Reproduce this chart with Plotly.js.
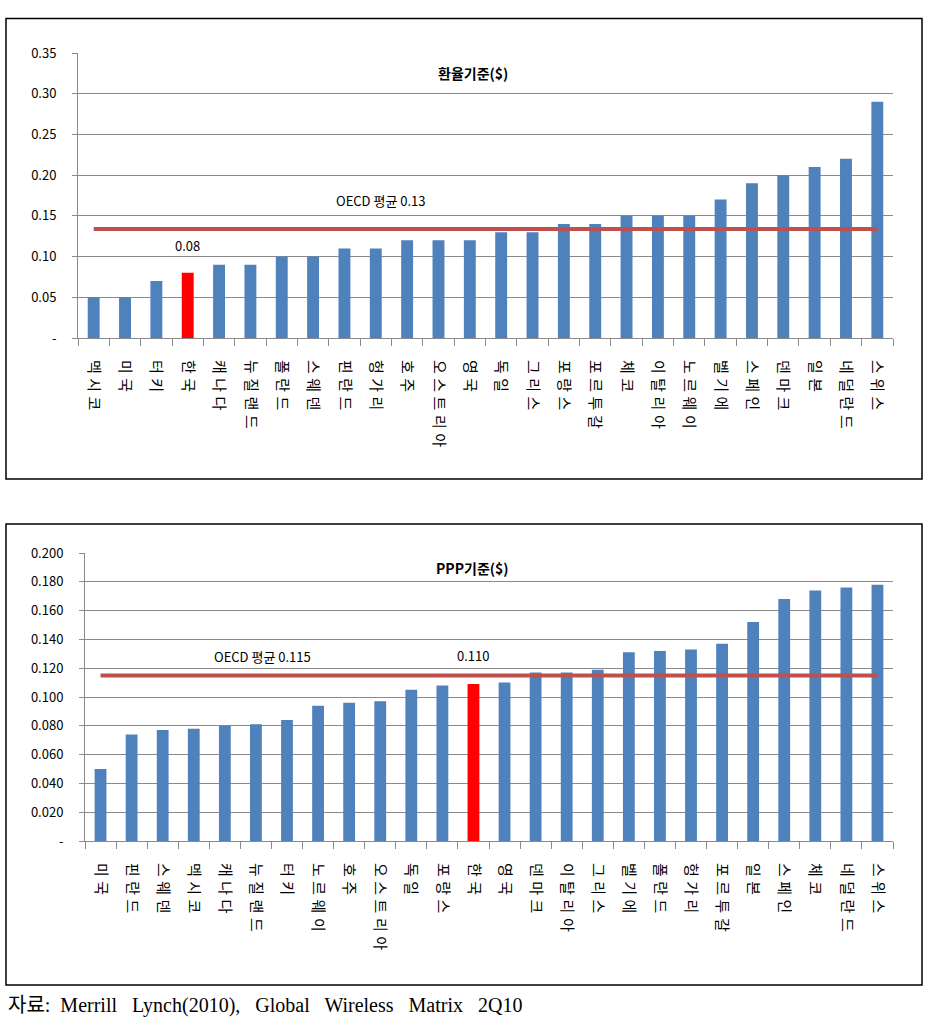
<!DOCTYPE html>
<html>
<head>
<meta charset="utf-8">
<script src="https://cdn.plot.ly/plotly-3.0.1.min.js"></script>
<style>
html,body{margin:0;padding:0;background:#fff;}
#chart{width:933px;height:1029px;}
.xtick text, .x2tick text{letter-spacing:4.5px;}
</style>
</head>
<body>
<div id="chart"></div>
<script>
// ---- Top chart: 환율기준($) ----
const fxCountries = ["멕시코","미국","터키","한국","캐나다","뉴질랜드","폴란드","스웨덴","핀란드","헝가리","호주","오스트리아","영국","독일","그리스","포랑스","포르투갈","체코","이탈리아","노르웨이","벨기에","스페인","덴마크","일본","네덜란드","스위스"];
const fxValues = [0.05,0.05,0.07,0.08,0.09,0.09,0.10,0.10,0.11,0.11,0.12,0.12,0.12,0.13,0.13,0.14,0.14,0.15,0.15,0.15,0.17,0.19,0.20,0.21,0.22,0.29];
const fxOecdAvg = 0.134;
const fxOecdLabel = "OECD 평균 0.13";
const fxKoreaLabel = "0.08";
const fxTitle = "환율기준($)";
const fxTickVals = [0,0.05,0.10,0.15,0.20,0.25,0.30,0.35];
const fxTickText = ["-","0.05","0.10","0.15","0.20","0.25","0.30","0.35"];

// ---- Bottom chart: PPP기준($) ----
const pppCountries = ["미국","핀란드","스웨덴","멕시코","캐나다","뉴질랜드","터키","노르웨이","호주","오스트리아","독일","포랑스","한국","영국","덴마크","이탈리아","그리스","벨기에","폴란드","헝가리","포르투갈","일본","스페인","체코","네덜란드","스위스"];
const pppValues = [0.050,0.074,0.077,0.078,0.080,0.081,0.084,0.094,0.096,0.097,0.105,0.108,0.109,0.110,0.117,0.117,0.119,0.131,0.132,0.133,0.137,0.152,0.168,0.174,0.176,0.178];
const pppOecdAvg = 0.115;
const pppOecdLabel = "OECD 평균 0.115";
const pppKoreaLabel = "0.110";
const pppTitle = "PPP기준($)";
const pppTickVals = [0,0.02,0.04,0.06,0.08,0.10,0.12,0.14,0.16,0.18,0.20];
const pppTickText = ["-","0.020","0.040","0.060","0.080","0.100","0.120","0.140","0.160","0.180","0.200"];

const highlight = "한국";
const sourceText = "자료:\u00a0 Merrill\u00a0\u00a0 Lynch(2010),\u00a0\u00a0 Global\u00a0\u00a0 Wireless\u00a0\u00a0 Matrix\u00a0\u00a0 2Q10";

const BLUE = "#4F81BD", RED = "#FF0000", LINE = "#C0504D", GRID = "#8A8A8A";
const W = 933, H = 1029;
const px = v => v / W;
const py = v => 1 - v / H;
const KFONT = "'Noto Sans CJK KR', 'Noto Sans', sans-serif";

const colorsFor = cats => cats.map(c => c === highlight ? RED : BLUE);

const traces = [
  {type:"bar", x:fxCountries, y:fxValues, xaxis:"x", yaxis:"y",
   marker:{color:colorsFor(fxCountries)}, hoverinfo:"x+y", showlegend:false},
  {type:"scatter", mode:"lines", x:[fxCountries[0], fxCountries[fxCountries.length-1]],
   y:[fxOecdAvg, fxOecdAvg], xaxis:"x", yaxis:"y",
   line:{color:LINE, width:4}, showlegend:false, hoverinfo:"skip"},
  {type:"bar", x:pppCountries, y:pppValues, xaxis:"x2", yaxis:"y2",
   marker:{color:colorsFor(pppCountries)}, hoverinfo:"x+y", showlegend:false},
  {type:"scatter", mode:"lines", x:[pppCountries[0], pppCountries[pppCountries.length-1]],
   y:[pppOecdAvg, pppOecdAvg], xaxis:"x2", yaxis:"y2",
   line:{color:LINE, width:4}, showlegend:false, hoverinfo:"skip"}
];

const xCommon = {
  type:"category", tickangle:90, ticks:"outside", tickson:"boundaries",
  ticklen:7, tickcolor:GRID, showline:true, linecolor:GRID, linewidth:1,
  showgrid:false, tickfont:{family:KFONT, size:15, color:"#000"},
  ticklabelstandoff:18, fixedrange:true
};
const yCommon = {
  ticks:"outside", ticklen:5, tickcolor:GRID, showline:true, linecolor:GRID,
  linewidth:1, showgrid:true, gridcolor:GRID, gridwidth:1, zeroline:false,
  tickfont:{family:KFONT, size:13, color:"#000"}, ticklabelstandoff:13, fixedrange:true
};

const layout = {
  width:W, height:H, margin:{l:0,r:0,t:0,b:0},
  paper_bgcolor:"#fff", plot_bgcolor:"#fff",
  bargap:0.62, showlegend:false,
  xaxis:Object.assign({}, xCommon, {domain:[px(78), px(893)], anchor:"y"}),
  yaxis:Object.assign({}, yCommon, {domain:[py(338), py(53)], range:[0,0.35],
        tickvals:fxTickVals, ticktext:fxTickText, anchor:"x"}),
  xaxis2:Object.assign({}, xCommon, {domain:[px(85), px(893)], anchor:"y2"}),
  yaxis2:Object.assign({}, yCommon, {domain:[py(841), py(553)], range:[0,0.2],
        tickvals:pppTickVals, ticktext:pppTickText, anchor:"x2"}),
  shapes:[
    {type:"rect", xref:"paper", yref:"paper", x0:px(6), x1:px(922), y0:py(479), y1:py(18.5),
     line:{color:"#000", width:1.5}},
    {type:"rect", xref:"paper", yref:"paper", x0:px(6), x1:px(922), y0:py(985), y1:py(524),
     line:{color:"#000", width:1.5}}
  ],
  annotations:[
    {text:fxTitle, xref:"paper", yref:"paper", x:px(473), y:py(73), showarrow:false,
     xanchor:"center", yanchor:"middle", font:{family:KFONT, size:14, color:"#000", weight:"bold"}},
    {text:fxOecdLabel, xref:"paper", yref:"paper", x:px(381), y:py(200), showarrow:false,
     xanchor:"center", yanchor:"middle", font:{family:KFONT, size:13, color:"#000"}},
    {text:fxKoreaLabel, xref:"x", yref:"y", x:highlight, y:0.113, showarrow:false,
     xanchor:"center", yanchor:"middle", font:{family:KFONT, size:13, color:"#000"}},
    {text:pppTitle, xref:"paper", yref:"paper", x:px(473), y:py(568), showarrow:false,
     xanchor:"center", yanchor:"middle", font:{family:KFONT, size:14, color:"#000", weight:"bold"}},
    {text:pppOecdLabel, xref:"paper", yref:"paper", x:px(262), y:py(656), showarrow:false,
     xanchor:"center", yanchor:"middle", font:{family:KFONT, size:13, color:"#000"}},
    {text:pppKoreaLabel, xref:"x2", yref:"y2", x:highlight, y:0.129, showarrow:false,
     xanchor:"center", yanchor:"middle", font:{family:KFONT, size:13, color:"#000"}},
    {text:sourceText, xref:"paper", yref:"paper", x:px(6), y:py(1005), showarrow:false,
     xanchor:"left", yanchor:"middle",
     font:{family:"'Liberation Serif', 'Noto Sans CJK KR', serif", size:20, color:"#000"}}
  ]
};

Plotly.newPlot("chart", traces, layout, {displayModeBar:false, staticPlot:true});
</script>
</body>
</html>
